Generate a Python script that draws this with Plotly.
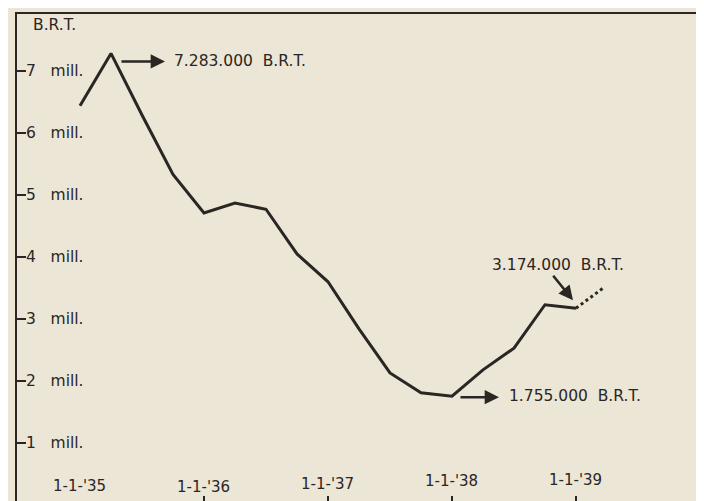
import plotly.graph_objects as go

# ---- data ----
quarters = [1935.00, 1935.25, 1935.50, 1935.75, 1936.00, 1936.25, 1936.50, 1936.75,
            1937.00, 1937.25, 1937.50, 1937.75, 1938.00, 1938.25, 1938.50, 1938.75, 1939.00]
tonnage_mill = [6.44, 7.283, 6.29, 5.33, 4.71, 4.87, 4.77, 4.05,
                3.60, 2.84, 2.13, 1.81, 1.755, 2.18, 2.53, 3.23, 3.174]
projection_t = [1939.00, 1939.22]
projection_v = [3.174, 3.50]

x_tickvals = [1935, 1936, 1937, 1938, 1939]
x_ticktext = ["1-1-'35", "1-1-'36", "1-1-'37", "1-1-'38", "1-1-'39"]
y_tickvals = [1, 2, 3, 4, 5, 6, 7]
y_ticktext = [f"{v}\u00a0\u00a0\u00a0mill." for v in y_tickvals]

peak_label = "7.283.000\u00a0\u00a0B.R.T."
low_label = "1.755.000\u00a0\u00a0B.R.T."
last_label = "3.174.000\u00a0\u00a0B.R.T."
unit_label = "B.R.T."

INK = "#2b2523"
BG = "#ebe6d6"
FONT = dict(family="DejaVu Sans", size=15.5, color=INK)
X_RANGE = [1934.492, 1939.992]
Y_RANGE = [0.0645, 7.919]

fig = go.Figure()
fig.add_trace(go.Scatter(x=quarters, y=tonnage_mill, mode="lines",
                         line=dict(color=INK, width=3), hoverinfo="skip"))
fig.add_trace(go.Scatter(x=projection_t, y=projection_v, mode="lines", xaxis="x2",
                         line=dict(color=INK, width=3, dash="dot"), hoverinfo="skip"))

i_peak = tonnage_mill.index(max(tonnage_mill))
i_low = tonnage_mill.index(min(tonnage_mill))
i_last = len(tonnage_mill) - 1

arrow = dict(showarrow=True, arrowhead=2, arrowsize=1.1, arrowwidth=2.6,
             arrowcolor=INK, text="", axref="pixel", ayref="pixel")

annotations = [
    # peak
    dict(x=quarters[i_peak], y=tonnage_mill[i_peak], xshift=54, yshift=-8, ax=-45, ay=0, **arrow),
    dict(x=quarters[i_peak], y=tonnage_mill[i_peak], xshift=61, yshift=-8, text=peak_label,
         showarrow=False, xanchor="left", yanchor="middle", font=FONT),
    # low
    dict(x=quarters[i_low], y=tonnage_mill[i_low], xshift=47, yshift=-1, ax=-40, ay=0, **arrow),
    dict(x=quarters[i_low], y=tonnage_mill[i_low], xshift=55, yshift=0, text=low_label,
         showarrow=False, xanchor="left", yanchor="middle", font=FONT),
    # last
    dict(x=quarters[i_last], y=tonnage_mill[i_last], xshift=-3, yshift=8, ax=-21, ay=-26, **arrow),
    dict(x=quarters[i_last], y=tonnage_mill[i_last], xshift=-18, yshift=43, text=last_label,
         showarrow=False, xanchor="center", yanchor="middle", font=FONT),
    # unit
    dict(x=0.021, y=0.977, xref="paper", yref="paper", text=unit_label, showarrow=False,
         xanchor="left", yanchor="middle", font=FONT),
]

# hand-set (slightly staggered) heights of the date labels, as in the print
label_y = [0.031, 0.029, 0.035, 0.041, 0.043]
for tv, tt, ly in zip(x_tickvals, x_ticktext, label_y):
    annotations.append(dict(x=tv, y=ly, xref="x", yref="paper", text=tt, showarrow=False,
                            xanchor="center", yanchor="middle",
                            font=dict(family="DejaVu Sans", size=15, color=INK)))

fig.update_layout(
    width=704, height=501,
    margin=dict(l=9, r=13, t=6, b=8, pad=0),
    paper_bgcolor=BG, plot_bgcolor=BG,
    showlegend=False,
    annotations=annotations,
    font=FONT,
    xaxis=dict(range=X_RANGE, tickvals=x_tickvals, showticklabels=False,
               ticks="inside", ticklen=5, tickwidth=1.5, tickcolor=INK,
               showgrid=False, zeroline=False, showline=False),
    xaxis2=dict(range=X_RANGE, overlaying="x", side="top", showticklabels=False, ticks="",
                showgrid=False, zeroline=False, showline=True, linewidth=2, linecolor=INK),
    yaxis=dict(range=Y_RANGE, tickvals=y_tickvals, ticktext=y_ticktext,
               ticks="inside", ticklen=9, tickwidth=2, tickcolor=INK,
               ticklabelposition="inside", showgrid=False, zeroline=False,
               showline=True, mirror=True, linewidth=2, linecolor=INK,
               tickfont=FONT),
)

fig.write_html("out.html")
